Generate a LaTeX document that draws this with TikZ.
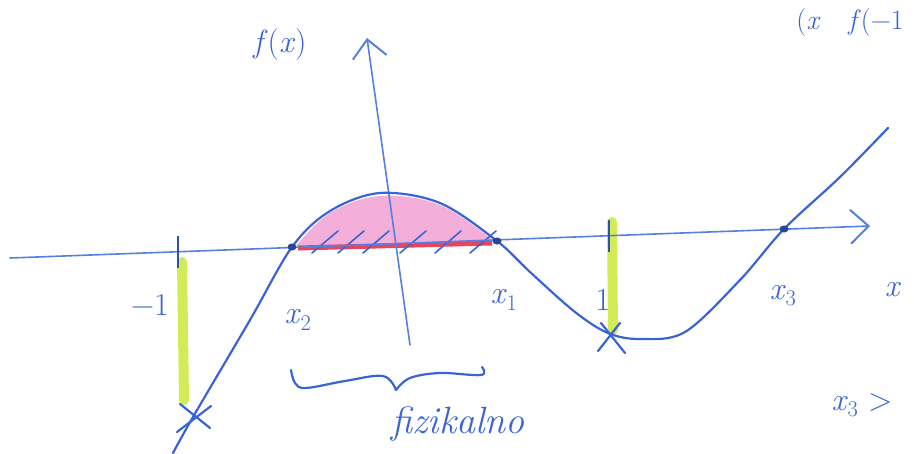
\documentclass[tikz,border=0pt]{standalone}
\usepackage{tikz}
\usetikzlibrary{arrows.meta,shapes.geometric}
\definecolor{skpen}{HTML}{3A64D6}
\definecolor{skaxis}{HTML}{5680E0}
\definecolor{skmark}{HTML}{D2EC55}
\definecolor{skfill}{HTML}{F4AEDA}
\definecolor{skred}{HTML}{E8445E}
\newcommand{\vx}{\textit{x}}
\tikzset{
  pen/.style={draw=skpen,line width=2.2pt,line cap=round,line join=round},
  axisline/.style={draw=skaxis,line width=1.6pt,line cap=round,
    -{Straight Barb[length=18pt,width=34pt,line width=2pt]}},
  hilite/.style={draw=skmark,line width=10pt,line cap=round},
  hatch/.style={draw=skpen,line width=1.6pt,line cap=round},
  tick/.style={draw=skpen!80!black,line width=1.8pt},
  dotmark/.style={ellipse,fill=skpen!70!black,inner sep=0pt,minimum width=9pt,minimum height=7pt},
  lbl/.style={text=skpen,inner sep=0pt,font=\fontsize{32}{34}\selectfont}
}

\begin{document}
\begin{tikzpicture}[x=1pt,y=-1pt]
  \useasboundingbox (0,0) rectangle (914,453);
  % highlighter bars at -1 and 1
  \draw[hilite] (182,262) -- (184,400);
  \draw[hilite] (612,222) -- (613,330);
  % filled region between the roots
  \fill[skfill] plot[smooth,tension=.6] coordinates {(296,246) (330,213) (380,196) (440,205) (494,241)} -- cycle;
  \draw[skred,line width=5pt] (298,248) -- (492,243);
  \foreach \hx in {312,338,363,400,435,470}
    \draw[hatch] (\hx,253) -- ++(26,-22);
  % axes
  \coordinate (xstart) at (10,258);
  \coordinate (xend) at (870,226);
  \coordinate (ystart) at (410,345);
  \coordinate (yend) at (367,38);
  \draw[axisline] (xstart) -- (xend);
  \draw[axisline] (ystart) -- (yend);
  % ticks
  \draw[tick] (178,236) -- (178,268);
  \draw[tick] (609,220) -- (609,252);
  % the function
  \draw[pen] plot[smooth,tension=.55] coordinates {(173,453) (193,417) (250,320) (292,247) (330,211) (380,193) (440,203) (497,241) (530,272) (575,312) (608,333) (640,339) (685,332) (740,280) (784,229) (840,177) (888,128)};
  % roots
  \node[dotmark] (xtwo) at (292,247) {};
  \node[dotmark] (xone) at (497,241) {};
  \node[dotmark] (xthree) at (784,229) {};
  % crosses
  \coordinate (cl) at (195,417);
  \coordinate (cr) at (611,337);
  \draw[pen] (cl) ++(-15,-13) -- ++(30,24) (cl) ++(16,-11) -- ++(-34,26);
  \draw[pen] (cr) ++(-10,-14) -- ++(24,30) (cr) ++(9,-14) -- ++(-22,28);
  % brace
  \draw[pen] plot[smooth,tension=.6] coordinates {(291,370) (295,383) (306,388) (345,381) (383,376) (396,390)};
  \draw[pen] plot[smooth,tension=.6] coordinates {(396,390) (410,378) (440,373) (481,375) (482,367)};
  % labels
  \node[lbl] (fx) at (280,45) {\textit{f}(\vx)};
  \node[lbl] (mone) at (150,305) {−1};
  \node[lbl] (lxtwo) at (298,320) {\vx\textsubscript{2}};
  \node[lbl] (lxone) at (504,300) {\vx\textsubscript{1}};
  \node[lbl] (pone) at (603,300) {1};
  \node[lbl] (lxthree) at (783,296) {\vx\textsubscript{3}};
  \node[lbl] (lx) at (893,290) {\vx};
  \node[lbl,font=\fontsize{38}{40}\itshape] (phys) at (458,424) {fizikalno};
  \node[lbl] (cond) at (862,405) {\vx\textsubscript{3} >};
  \node[lbl,anchor=north east,font=\fontsize{28}{30}\selectfont] (top) at (904,8) {(\vx\quad \textit{f}(−1};
\end{tikzpicture}
\end{document}
